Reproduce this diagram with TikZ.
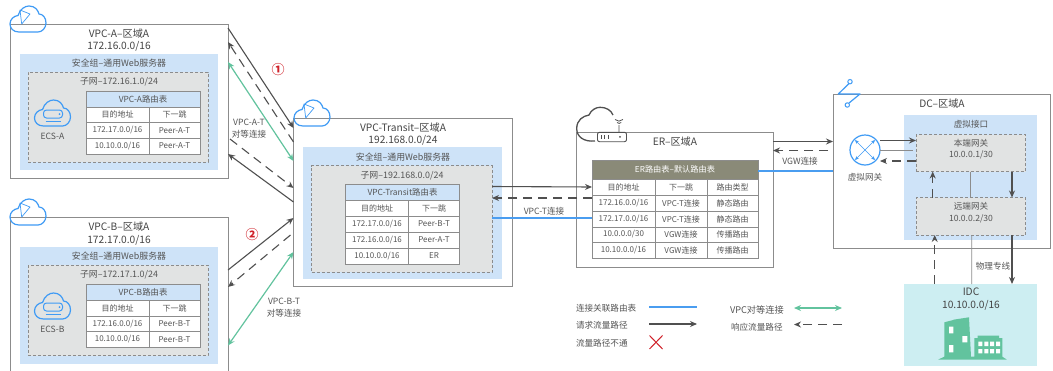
\documentclass[tikz,border=0pt]{standalone}
\usepackage{fontspec}
\setmainfont{Noto Sans CJK SC}
\usetikzlibrary{arrows.meta,calc}
\definecolor{txt}{HTML}{555555}
\definecolor{dark}{HTML}{505050}
\definecolor{edgegray}{HTML}{8C8C8C}
\definecolor{secblue}{HTML}{CEE3F8}
\definecolor{subgray}{HTML}{E1E3E3}
\definecolor{olive}{HTML}{8A8A78}
\definecolor{idcfill}{HTML}{CDEEF2}
\definecolor{peer}{HTML}{62C39E}
\definecolor{linkblue}{HTML}{4A9DF0}
\definecolor{iconblue}{HTML}{3F9BF5}
\definecolor{redmark}{HTML}{D0222A}
\tikzset{
  base/.style={inner sep=0pt,outer sep=0pt,anchor=north west},
  region/.style={base,draw=edgegray,line width=0.9pt,fill=white},
  secgroup/.style={base,fill=secblue},
  subnet/.style={base,draw=edgegray,densely dashed,line width=0.8pt,fill=subgray},
  cellb/.style={base,draw=edgegray,line width=0.9pt,fill=white,text=txt,font=\fontsize{8}{9}\selectfont},
  headb/.style={cellb,fill=secblue,font=\fontsize{8.4}{9}\selectfont},
  olivehead/.style={cellb,fill=olive,text=white,font=\fontsize{8.2}{9}\selectfont},
  lbl/.style={inner sep=0pt,outer sep=0pt,yshift=-1pt,text=txt,align=center,font=\fontsize{8.6}{11.5}\selectfont},
  seclbl/.style={lbl,font=\fontsize{8.9}{11.5}\selectfont},
  ttl/.style={inner sep=0pt,outer sep=0pt,yshift=-1pt,text=txt!80!black,align=center,font=\fontsize{10.2}{12.5}\selectfont},
  leg/.style={lbl,anchor=west,font=\fontsize{8.6}{10}\selectfont},
  req/.style={draw=dark,line width=1.1pt,-{Stealth[length=7pt,width=6pt]}},
  resp/.style={draw=dark,line width=1.1pt,dash pattern=on 9pt off 6pt,-{Stealth[length=7pt,width=6pt]}},
  vpcpeer/.style={draw=peer,line width=1.2pt,{Stealth[length=7pt,width=6pt]}-{Stealth[length=7pt,width=6pt]}},
  assoc/.style={draw=linkblue,line width=1.15pt},
  thingray/.style={draw=edgegray,line width=0.8pt},
  ic/.style={draw=iconblue,line width=1.2pt},
  smalltips/.style={iconblue,line width=0.6pt,{Stealth[length=4pt,width=3.5pt]}-{Stealth[length=4pt,width=3.5pt]}},
  badge/.style={inner sep=0pt,text=redmark,font=\bfseries\fontsize{13}{14}\selectfont},
}
\newcommand{\bx}[7][]{\node[#3,minimum width={(#6-#4)*1pt},minimum height={(#7-#5)*1pt},#1] (#2) at (#4,#5) {};}
\newcommand{\cellb}[7]{\node[#7,minimum width={(#4-#2)*1pt},minimum height={(#5-#3)*1pt}] (#1) at (#2,#3) {\raisebox{-0.7pt}{#6}};}
\newcommand{\cloudshape}{(9,26) .. controls (3,26) and (0,22) .. (0,18) .. controls (0,13) and (4,10) .. (8,9.5) .. controls (10,3) and (15,0) .. (19,0) .. controls (25,0) and (28,4) .. (29,8) .. controls (33,8) and (36,12) .. (36,17) .. controls (36,22) and (32,26) .. (28,26) -- cycle}
\newcommand{\vpccloud}[2]{\begin{scope}[shift={(#1,#2)}]
  \draw[ic] \cloudshape;
  \draw[iconblue,line width=0.7pt,line join=round] (10,4) -- (20,8) -- (11.7,18) -- cycle;
\end{scope}}
\newcommand{\ecsicon}[2]{\begin{scope}[shift={(#1,#2)}]
  \draw[ic] \cloudshape;
  \draw[ic,line width=1pt,rounded corners=3pt] (9,10) rectangle (28,18);
  \fill[iconblue] (25,14) circle (1pt);
  \draw[ic,line width=1pt] (11,21.5) -- (26,21.5);
\end{scope}}
\newcommand{\twocol}[9]{%
  \cellb{#1a}{#2}{#5}{#3}{#6}{#7}{#9}\cellb{#1b}{#3}{#5}{#4}{#6}{#8}{#9}}
\newcommand{\threecol}[6]{%
  \cellb{#1a}{592}{#2}{655}{#3}{#4}{cellb}\cellb{#1b}{655}{#2}{707}{#3}{#5}{cellb}\cellb{#1c}{707}{#2}{758}{#3}{#6}{cellb}}
\begin{document}
\begin{tikzpicture}[x=1pt,y=-1pt]
\clip (0,0) rectangle (1053,370);
\fill[white] (0,0) rectangle (1053,370);
% VPC-A
\bx{vpca}{region}{10}{24}{228}{178}
\bx{seca}{secgroup}{20}{54}{218}{170}
\bx{suba}{subnet}{28}{72}{208}{162}
\node[ttl] (ta) at (119,39) {VPC-A–区域A\\172.16.0.0/16};
\node[seclbl] (sa) at (119,62) {安全组–通用Web服务器};
\node[seclbl] (na) at (119,81) {子网–172.16.1.0/24};
\cellb{ah}{86}{91}{200}{107}{VPC-A路由表}{headb}
\twocol{ar}{86}{149}{200}{107}{122.5}{目的地址}{下一跳}{cellb}
\twocol{as}{86}{149}{200}{122.5}{138}{172.17.0.0/16}{Peer-A-T}{cellb}
\twocol{at}{86}{149}{200}{138}{154}{10.10.0.0/16}{Peer-A-T}{cellb}
\ecsicon{34.5}{100}
\node[lbl] (ea) at (52.5,135.5) {ECS-A};
\vpccloud{10}{6}
% VPC-B
\bx{vpcb}{region}{10}{217.5}{228}{380}
\bx{secb}{secgroup}{20}{247}{218}{363.5}
\bx{subb}{subnet}{28}{265}{208}{355.5}
\node[ttl] (tb) at (119,232.5) {VPC-B–区域A\\172.17.0.0/16};
\node[seclbl] (sb) at (119,255) {安全组–通用Web服务器};
\node[seclbl] (nb) at (119,274) {子网–172.17.1.0/24};
\cellb{bh}{86}{284}{200}{300}{VPC-B路由表}{headb}
\twocol{br}{86}{149}{200}{300}{316}{目的地址}{下一跳}{cellb}
\twocol{bs}{86}{149}{200}{316}{331.5}{172.16.0.0/16}{Peer-B-T}{cellb}
\twocol{bt}{86}{149}{200}{331.5}{347.5}{10.10.0.0/16}{Peer-B-T}{cellb}
\ecsicon{34.5}{293}
\node[lbl] (eb) at (52.5,328.5) {ECS-B};
\vpccloud{10}{199}
% Transit
\bx{trans}{region}{293.5}{118}{512}{286}
\bx{sect}{secgroup}{303}{147}{501.5}{279}
\bx{subt}{subnet}{311.5}{165.5}{492}{272}
\node[ttl] (tt) at (403,133) {VPC-Transit–区域A\\192.168.0.0/24};
\node[seclbl] (st) at (403,156) {安全组–通用Web服务器};
\node[seclbl] (nt) at (402,174.5) {子网–192.168.0.0/24};
\cellb{th}{345.5}{184.5}{459.5}{200}{VPC-Transit路由表}{headb}
\twocol{tr}{345.5}{408.5}{459.5}{200}{216}{目的地址}{下一跳}{cellb}
\twocol{ts}{345.5}{408.5}{459.5}{216}{232}{172.17.0.0/16}{Peer-B-T}{cellb}
\twocol{tu}{345.5}{408.5}{459.5}{232}{248}{172.16.0.0/16}{Peer-A-T}{cellb}
\twocol{tv}{345.5}{408.5}{459.5}{248}{264}{10.10.0.0/16}{ER}{cellb}
\vpccloud{294}{100}
% ER
\bx{er}{region}{576}{132}{773}{267}
\node[ttl] (te) at (675,140.5) {ER–区域A};
\bx{ertbl}{cellb}{592}{160}{758}{258}
\cellb{eh}{592}{160}{758}{179}{ER路由表–默认路由表}{olivehead}
\threecol{er}{179}{195}{目的地址}{下一跳}{路由类型}
\threecol{es}{195}{211}{172.16.0.0/16}{VPC-T连接}{静态路由}
\threecol{et}{211}{227}{172.17.0.0/16}{VPC-T连接}{静态路由}
\threecol{eu}{227}{242}{10.0.0.0/30}{VGW连接}{传播路由}
\threecol{ev}{242}{258}{10.10.0.0/16}{VGW连接}{传播路由}
\draw[dark,line width=1.3pt] (595,141) .. controls (584,142) and (576.7,137) .. (576.7,128.5) .. controls (576.7,120) and (583,116) .. (589,115) .. controls (591,110) and (596,107.3) .. (600,107.3) .. controls (606,107.3) and (611,110) .. (613,115);
\draw[dark,line width=0.9pt,fill=white,rounded corners=2pt] (597.5,132.3) rectangle (626.5,141.7);
\draw[dark,line width=0.9pt] (601.7,135) -- (601.7,139) (604.5,135) -- (604.5,139) (608.5,135) -- (608.5,139);
\fill[dark] (620,136.8) circle (1pt);
\draw[dark,line width=0.8pt] (619,132.3) -- (619,125) (617,122.5) arc (135:45:3) (615,119.5) arc (135:45:5.6);
% DC
\bx{dc}{region}{833}{94}{1050}{248}
\node[ttl] (td) at (942,102.5) {DC–区域A};
\bx{vif}{secgroup}{904}{115}{1037}{240}
\node[lbl] (vi) at (971,123) {虚拟接口};
\bx{loc}{subnet}{916}{134.5}{1025.5}{171.5}
\node[lbl] (lo) at (971,148) {本端网关\\10.0.0.1/30};
\bx{rem}{subnet}{916}{197.5}{1025.5}{235}
\node[lbl] (re) at (971,211.5) {远端网关\\10.0.0.2/30};
\node[draw=iconblue,line width=1.2pt,circle,minimum size=30pt,inner sep=0pt,outer sep=0pt] (router) at (865,150) {};
\draw[smalltips] (855,140) -- (875,160);
\draw[smalltips] (875,140) -- (855,160);
\node[lbl] (vg) at (865,176) {虚拟网关};
\draw[ic,line cap=round,line join=round] (849,83.5) -- (838.3,94) -- (860,94) -- (849,103);
\draw[ic,line width=1pt] (850,81.7) circle (2.2pt);
\draw[ic,line width=1pt] (847.3,105) circle (2.2pt);
% IDC
\bx{idc}{base,fill=idcfill}{904}{284}{1037}{366}
\node[ttl] (ti) at (971,298) {IDC\\10.10.0.0/16};
\fill[peer] (938.3,359.5) -- (944.3,356.7) -- (944.3,322.3) -- (953.3,320) -- (953.3,319.7) -- (969,317.3) -- (971,356.7) -- (974.3,356.7) -- (974.3,338) -- (977.7,338) -- (977.7,335.7) -- (999,335.7) -- (999,338) -- (1002.3,338) -- (1002.3,356.7) -- (1006.7,359.5) -- cycle;
\fill[white] (949,326.7) rectangle (953.3,333.3) (962.3,336) rectangle (967.3,342.3) (949,345) rectangle (953.3,352.3);
\foreach \wx in {978.3,984.3,990,996} {\fill[white] (\wx,341.7) rectangle +(4,4.3) (\wx,349) rectangle +(4,4.3);}
% connectors
\draw[req] ([yshift=-4pt]vpca.north east) -- ([yshift=-10pt]trans.north west);
\draw[resp] ([yshift=-24pt]trans.north west) -- ([yshift=-18pt]vpca.north east);
\draw[vpcpeer] ([yshift=-38pt]vpca.north east) -- ([yshift=-43pt]trans.north west);
\draw[resp] ([xshift=2pt,yshift=39pt]vpca.south east) -- ([yshift=-70pt]trans.north west);
\draw[req] ([yshift=-84pt]trans.north west) -- ([yshift=24pt]vpca.south east);
\draw[req] ([yshift=-52.5pt]vpcb.north east) -- ([yshift=-100pt]trans.north west);
\draw[resp] ([xshift=-3pt,yshift=-117pt]trans.north west) -- ([yshift=-69.5pt]vpcb.north east);
\draw[vpcpeer] ([yshift=-128pt]vpcb.north east) -- ([yshift=-134pt]trans.north west);
\draw[req] ([yshift=-21pt]subt.north east) -- ([yshift=-27pt]ertbl.north west);
\draw[resp] ([yshift=-38pt]ertbl.north west) -- ([yshift=-32.5pt]subt.north east);
\draw[assoc] ([yshift=-52.5pt]subt.north east) -- ([yshift=-58pt]ertbl.north west);
\draw[req] ([yshift=-9.5pt]er.north east) -- ([yshift=-47.5pt]dc.north west);
\draw[resp] ([xshift=-5pt,yshift=-56.5pt]dc.north west) -- ([yshift=-18.5pt]er.north east);
\draw[assoc] ([yshift=-11pt]ertbl.north east) -- ([yshift=-77pt]dc.north west);
\draw[req] ([yshift=9.5pt]router.east) -- ([yshift=-6pt]loc.north west);
\draw[thingray] (router.east) -- ([xshift=-3pt,yshift=-15.5pt]loc.north west);
\draw[resp] ([yshift=-26.5pt]loc.north west) -- ([yshift=-11pt]router.east);
\draw[resp] ([xshift=16.7pt]rem.north west) -- ([xshift=16.7pt]loc.south west);
\draw[thingray] (loc.south) -- (rem.north);
\draw[req] ([xshift=-13.5pt]loc.south east) -- ([xshift=-13.5pt]rem.north east);
\draw[resp] ([xshift=30.7pt]idc.north west) -- ([xshift=18.7pt]rem.south west);
\draw[thingray] ([xshift=1pt]rem.south) -- ([xshift=1.2pt]idc.north);
\draw[req] ([xshift=-13.5pt]rem.south east) -- ([xshift=-25pt]idc.north east);
% labels
\node[lbl] (la) at (249,127.5) {VPC-A-T\\对等连接};
\node[lbl] (lb) at (284,306.5) {VPC-B-T\\对等连接};
\node[lbl] (lt) at (544,210) {VPC-T连接};
\node[lbl] (lv) at (800,160) {VGW连接};
\node[lbl] (lp) at (993,265) {物理专线};
\node[badge] (n1) at (278,70) {①};
\node[badge] (n2) at (252,235) {②};
% legend
\node[leg] (k1) at (576,307) {连接关联路由表};
\node[leg] (k2) at (576,324.5) {请求流量路径};
\node[leg] (k3) at (576,342.5) {流量路径不通};
\node[leg,font=\fontsize{9.2}{10}\selectfont] (k4) at (730,308.5) {VPC对等连接};
\node[leg] (k5) at (731,326) {响应流量路径};
\coordinate (k1a) at (649,307); \coordinate (k1b) at (697,307);
\coordinate (k2a) at (649,324); \coordinate (k2b) at (697,324);
\coordinate (k4a) at (794,308); \coordinate (k4b) at (842,308);
\coordinate (k5a) at (842,324.5); \coordinate (k5b) at (794,324.5);
\draw[assoc] (k1a) -- (k1b);
\draw[req] (k2a) -- (k2b);
\draw[vpcpeer] (k4a) -- (k4b);
\draw[resp] (k5a) -- (k5b);
\draw[redmark,line width=1pt] (649.5,335.5) -- (662.5,349) (662.5,335.5) -- (649.5,349);
\end{tikzpicture}
\end{document}
